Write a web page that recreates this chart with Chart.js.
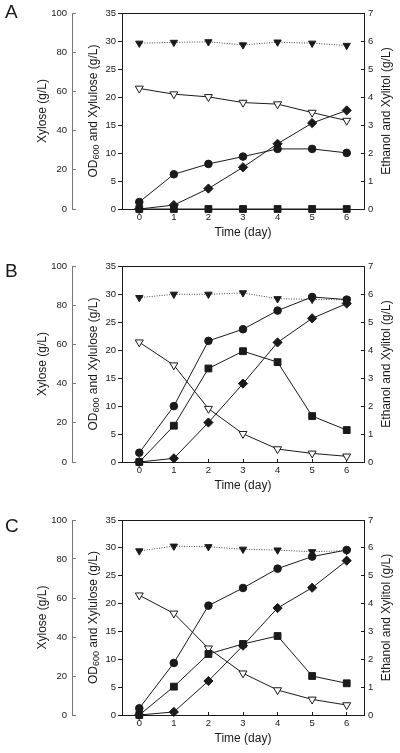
<!DOCTYPE html>
<html>
<head>
<meta charset="utf-8">
<script src="https://cdn.jsdelivr.net/npm/chart.js@4.4.1/dist/chart.umd.min.js"></script>
<style>
  body { margin: 0; background: #fff; }
  canvas { display: block; }
</style>
</head>
<body>
<canvas id="chartA" width="400" height="250"></canvas>
<canvas id="chartB" width="400" height="250"></canvas>
<canvas id="chartC" width="400" height="253"></canvas>
<script>
// time axis
const days = [0, 1, 2, 3, 4, 5, 6];
const xyloseTicks = [0, 20, 40, 60, 80, 100];
const odTicks = [0, 5, 10, 15, 20, 25, 30, 35];
const ethanolTicks = [0, 1, 2, 3, 4, 5, 6, 7];

// panel A
const xyloseA = [61.5, 58.6, 57.2, 54.3, 53.5, 49.2, 45.1];
const odA = [1.25, 6.2, 8.05, 9.36, 10.73, 10.73, 10.02];
const xyluloseA = [0, 0, 0, 0, 0, 0, 0];
const ethanolA = [0, 0.14, 0.73, 1.49, 2.33, 3.07, 3.52];
const xylitolA = [5.92, 5.95, 5.97, 5.86, 5.96, 5.92, 5.84];

// panel B
const xyloseB = [61.1, 49.4, 27.2, 14.4, 6.6, 4.4, 2.9];
const odB = [1.66, 9.98, 21.63, 23.71, 27.04, 29.47, 29.0];
const xyluloseB = [0, 6.48, 16.7, 19.79, 17.83, 8.2, 5.7];
const ethanolB = [0, 0.13, 1.41, 2.8, 4.27, 5.13, 5.66];
const xylitolB = [5.87, 5.99, 5.99, 6.04, 5.83, 5.81, 5.79];

// panel C
const xyloseC = [61.4, 52.1, 34.2, 21.4, 12.8, 8.0, 5.1];
const odC = [1.2, 9.34, 19.63, 22.8, 26.27, 28.43, 29.62];
const xyluloseC = [0, 5.09, 10.95, 12.75, 14.18, 7.0, 5.69];
const ethanolC = [0, 0.11, 1.22, 2.49, 3.84, 4.57, 5.54];
const xylitolC = [5.89, 6.06, 6.04, 5.95, 5.92, 5.86, 5.9];

const family = "'Liberation Sans', Arial, sans-serif";
const ink = '#1a1a1a';
const tickFont = { family, size: 9.5 };
const titleFont = { family, size: 12 };

// letter + the two titles chart.js can't draw (subscript, right title read bottom-up)
const panelText = {
  id: 'panelText',
  afterDraw(chart, args, opts) {
    const { ctx, chartArea } = chart;
    const cy = (chartArea.top + chartArea.bottom) / 2;
    ctx.save();
    ctx.fillStyle = ink;
    ctx.font = `19px ${family}`;
    ctx.textBaseline = 'alphabetic';
    ctx.fillText(opts.letter, 5, opts.letterY);

    ctx.textBaseline = 'middle';
    const parts = [['OD', 12, 0], ['600', 9, 3], [' and Xylulose (g/L)', 12, 0]];
    let total = 0;
    parts.forEach(p => { ctx.font = `${p[1]}px ${family}`; p.push(ctx.measureText(p[0]).width); total += p[3]; });
    ctx.save();
    ctx.translate(94, cy);
    ctx.rotate(-Math.PI / 2);
    let x = -total / 2;
    parts.forEach(p => {
      ctx.font = `${p[1]}px ${family}`;
      ctx.fillText(p[0], x, p[2]);
      x += p[3];
    });
    ctx.restore();

    ctx.save();
    ctx.translate(387, cy);
    ctx.rotate(-Math.PI / 2);
    ctx.font = `12px ${family}`;
    ctx.textAlign = 'center';
    ctx.fillText('Ethanol and Xylitol (g/L)', 0, 0);
    ctx.restore();
    ctx.restore();
  }
};

function fix(w, h) {
  return s => {
    if (w != null) s.width = w;
    if (h != null) s.height = h;
    s.paddingTop = s.paddingBottom = s.paddingLeft = s.paddingRight = 0;
  };
}

function series(data, axis, style, opts) {
  return Object.assign({
    data: data,
    yAxisID: axis,
    borderColor: ink,
    borderWidth: 1,
    pointStyle: style,
    pointRadius: 4,
    pointBackgroundColor: ink,
    pointBorderColor: ink,
    pointBorderWidth: 1,
    tension: 0,
    clip: false
  }, opts || {});
}

function drawPanel(id, letter, letterY, top, xHeight, xylose, od, xylulose, ethanol, xylitol) {
  new Chart(document.getElementById(id), {
    type: 'line',
    data: {
      labels: days,
      datasets: [
        series(od, 'od', 'circle', { pointRadius: 3.8 }),
        series(ethanol, 'eth', 'rectRot', { pointRadius: 4.6 }),
        series(xylulose, 'od', 'rect', { pointRadius: 4.8 }),
        series(xylitol, 'eth', 'triangle', { pointRotation: 180, pointRadius: 4.2, borderDash: [1, 1.5], borderColor: '#444' }),
        series(xylose, 'xylose', 'triangle', { pointRotation: 180, pointRadius: 4.6, pointBackgroundColor: '#fff' })
      ]
    },
    options: {
      responsive: false,
      animation: false,
      layout: { padding: { top: top, left: 0, right: 0, bottom: 0 } },
      plugins: {
        legend: { display: false },
        tooltip: { enabled: false },
        panelText: { letter: letter, letterY: letterY }
      },
      scales: {
        x: {
          type: 'category', offset: true,
          grid: { drawOnChartArea: false, tickLength: -3, color: ink },
          border: { color: ink },
          ticks: { font: tickFont, color: ink, padding: 5.8, maxRotation: 0 },
          title: { display: true, text: 'Time (day)', font: titleFont, color: ink, padding: { top: 0, bottom: xHeight - 24 - 7.2 } },
          afterFit: fix(null, xHeight)
        },
        xTop: {
          type: 'category', position: 'top',
          grid: { display: false },
          border: { color: ink },
          ticks: { display: false },
          afterFit: fix(null, 0)
        },
        xylose: {
          position: 'left', weight: 2, min: 0, max: 100,
          afterBuildTicks: s => { s.ticks = xyloseTicks.map(v => ({ value: v })); },
          grid: { drawOnChartArea: false, tickLength: -4, color: '#777' },
          border: { color: '#777' },
          ticks: { font: tickFont, color: ink, padding: 9 },
          title: { display: true, text: 'Xylose (g/L)', font: titleFont, color: ink, padding: { top: 35, bottom: 0 } },
          afterFit: fix(72)
        },
        od: {
          position: 'left', weight: 1, min: 0, max: 35,
          afterBuildTicks: s => { s.ticks = odTicks.map(v => ({ value: v })); },
          grid: { drawOnChartArea: false, tickLength: 4, color: ink },
          border: { color: ink },
          ticks: { font: tickFont, color: ink, padding: 2 },
          afterFit: fix(50)
        },
        eth: {
          position: 'right', min: 0, max: 7,
          afterBuildTicks: s => { s.ticks = ethanolTicks.map(v => ({ value: v })); },
          grid: { drawOnChartArea: false, tickLength: -3, color: ink },
          border: { color: ink },
          ticks: { font: tickFont, color: ink, padding: 7 },
          afterFit: fix(36)
        }
      }
    },
    plugins: [panelText]
  });
}

drawPanel('chartA', 'A', 18, 13, 41, xyloseA, odA, xyluloseA, ethanolA, xylitolA);
drawPanel('chartB', 'B', 27, 16, 38, xyloseB, odB, xyluloseB, ethanolB, xylitolB);
drawPanel('chartC', 'C', 32, 20, 38, xyloseC, odC, xyluloseC, ethanolC, xylitolC);
</script>
</body>
</html>
